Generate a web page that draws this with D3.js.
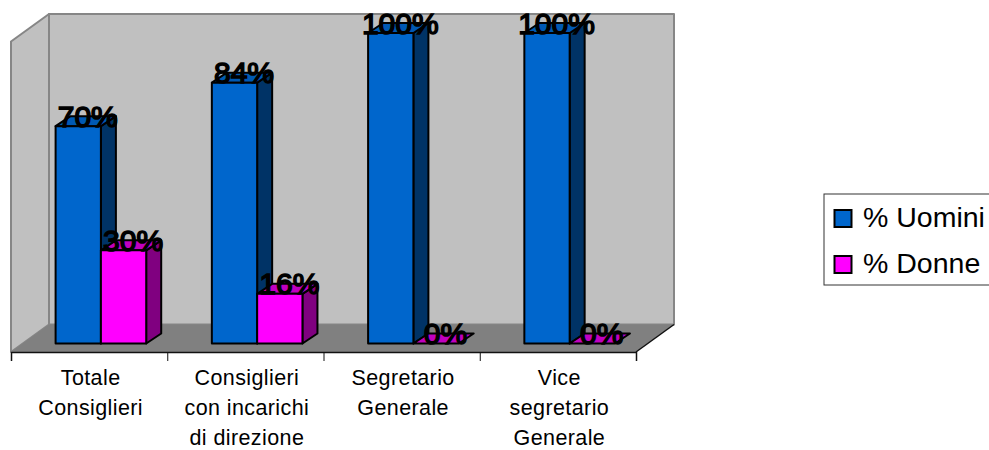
<!DOCTYPE html>
<html><head><meta charset="utf-8">
<script src="https://cdn.jsdelivr.net/npm/d3@7/dist/d3.min.js"></script>
<style>html,body{margin:0;padding:0;background:#fff}svg{display:block}text{font-family:"Liberation Sans",Arial,sans-serif}</style>
</head><body><div id="c"></div>
<script>
const categories=[["Totale","Consiglieri"],["Consiglieri","con incarichi","di direzione"],["Segretario","Generale"],["Vice","segretario","Generale"]];
const uomini=[70,84,100,100];
const donne=[30,16,0,0];
const seriesNames=["% Uomini","% Donne"];
const colors=[{f:"#0066cc",s:"#003366",t:"#0059b3"},{f:"#ff00ff",s:"#800080",t:"#c000c0"}];

const W=989,H=450,dx=38,dy=-27.5,bdx=15,bdy=-10;
const svg=d3.select("#c").append("svg").attr("width",W).attr("height",H);
const x=d3.scaleBand().domain(d3.range(4)).range([11,636]);
const y=d3.scaleLinear().domain([0,100]).range([343.5,33]);
const floorY=352,topY=41.5;
const poly=(pts,fill,stroke,sw)=>svg.append("polygon").attr("points",pts.map(p=>p.join(",")).join(" ")).attr("fill",fill).attr("stroke",stroke||"none").attr("stroke-width",sw||0).attr("stroke-linejoin","round");

poly([[11+dx,topY+dy],[636+dx,topY+dy],[636+dx,floorY+dy],[11+dx,floorY+dy]],"#c0c0c0","#868686",2);
poly([[11,topY],[11+dx,topY+dy],[11+dx,floorY+dy],[11,floorY]],"#c0c0c0","#868686",2);
poly([[11,floorY],[11+dx,floorY+dy],[636+dx,floorY+dy],[636,floorY]],"#808080");
svg.append("path").attr("d",`M636,${floorY}L${636+dx},${floorY+dy}`).attr("stroke","#111").attr("stroke-width",1.5);

const bw=45.3, off=44.6;
function bar(i,v,k){
  const x0=x(i)+off+k*bw, x1=x0+bw, yt=y(v), yb=y(0), c=colors[k];
  const sw=2;
  if(v>0){
    poly([[x1,yb],[x1+bdx,yb+bdy],[x1+bdx,yt+bdy],[x1,yt]],c.s,"#000",sw);
    poly([[x0,yt],[x0+bdx,yt+bdy],[x1+bdx,yt+bdy],[x1,yt]],c.t,"#000",sw);
    poly([[x0,yb],[x1,yb],[x1,yt],[x0,yt]],c.f,"#000",sw);
  } else {
    poly([[x0,yt],[x0+bdx,yt+bdy],[x1+bdx,yt+bdy],[x1,yt]],c.t,"#000",sw);
  }
}
d3.range(4).forEach(i=>{bar(i,uomini[i],0);bar(i,donne[i],1);});

const labelLayer=svg.append("g").attr("font-size",30).attr("fill","#000").attr("stroke","#000").attr("stroke-width",1.5).attr("text-anchor","middle");
d3.range(4).forEach(i=>{
  [uomini,donne].forEach((s,k)=>{
    labelLayer.append("text").attr("x",x(i)+off+k*bw+bw/2+9.5).attr("y",y(s[i])+0.5).text(s[i]+"%");
  });
});

// category axis
const axis=d3.axisBottom(d3.scaleLinear().domain([0,4]).range([11,636])).ticks(4).tickSize(9).tickFormat("");
const ag=svg.append("g").attr("transform",`translate(0,${floorY})`).call(axis);
ag.select(".domain").attr("stroke","#111").attr("stroke-width",1.5);
ag.selectAll(".tick line").attr("stroke","#111").attr("stroke-width",1);
categories.forEach((lines,i)=>{
  const t=svg.append("text").attr("text-anchor","middle").attr("font-size",21.5).attr("letter-spacing",0.4).attr("fill","#000");
  lines.forEach((l,j)=>t.append("tspan").attr("x",x(i)+x.bandwidth()/2+1.5).attr("y",385+j*30.2).text(l));
});

// legend
svg.append("rect").attr("x",824).attr("y",194).attr("width",175).attr("height",91).attr("fill","#fff").attr("stroke","#333").attr("stroke-width",1);
seriesNames.forEach((n,k)=>{
  const yy=210+k*46;
  svg.append("rect").attr("x",834.5).attr("y",yy).attr("width",17).attr("height",17).attr("fill",colors[k].f).attr("stroke","#000").attr("stroke-width",2);
  svg.append("text").attr("x",863).attr("y",yy+17).attr("font-size",28.5).attr("fill","#000").text(n);
});
</script></body></html>
